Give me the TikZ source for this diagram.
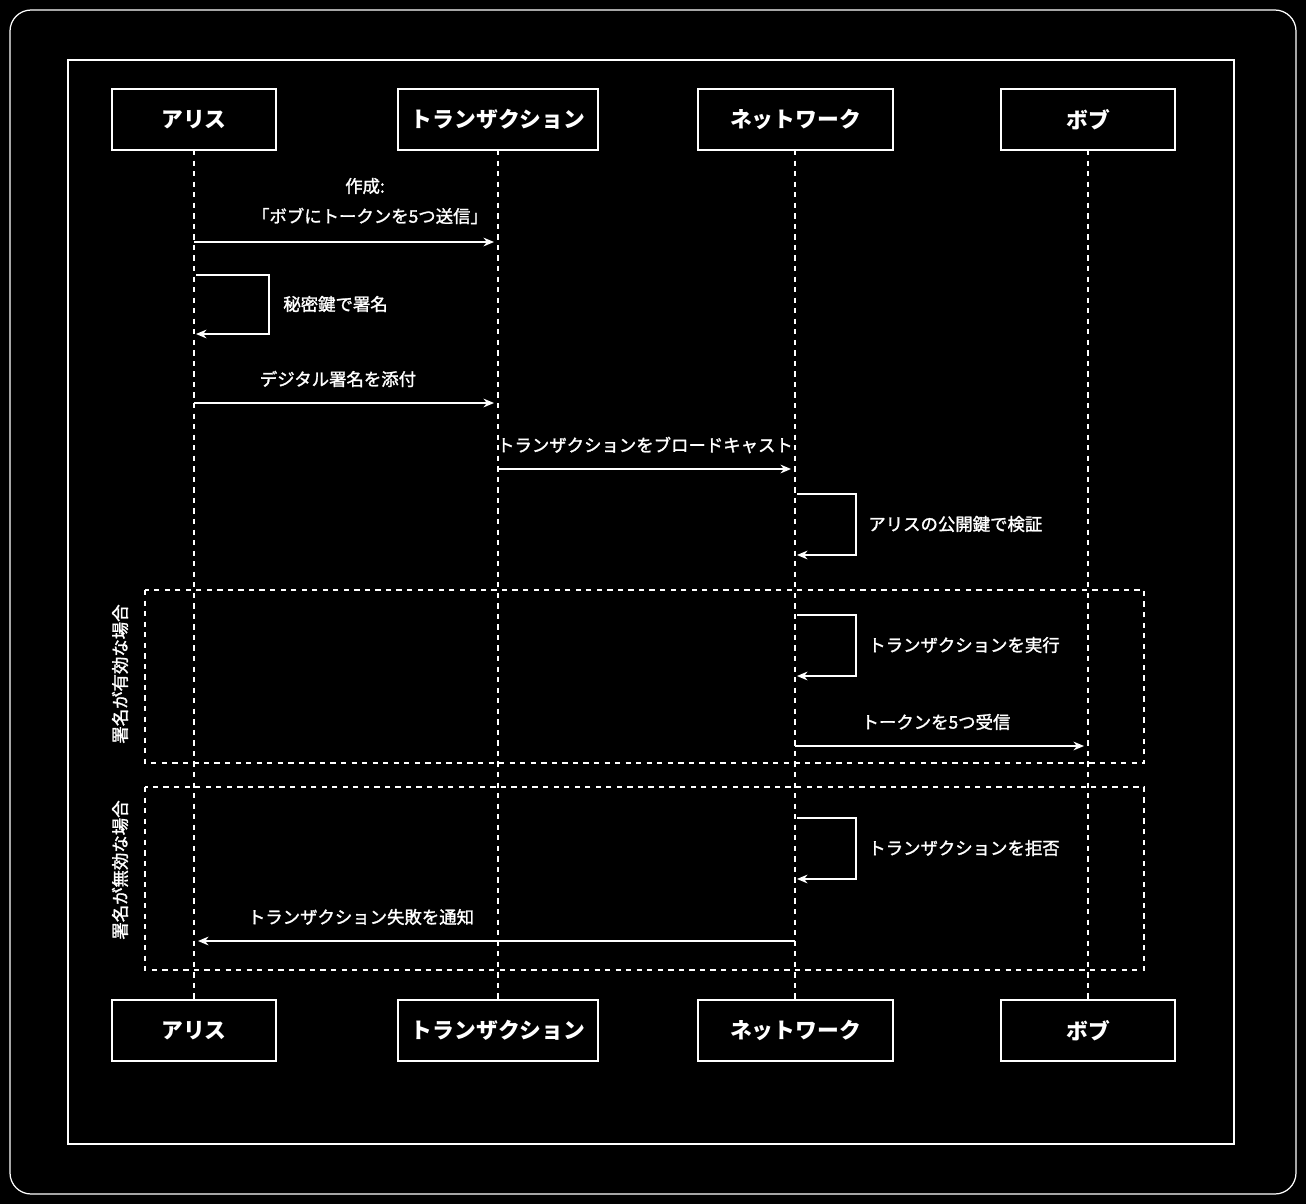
\documentclass[tikz,border=0pt]{standalone}
\usepackage{fontspec}
\newfontfamily\cjk{Noto Sans CJK JP}
\newfontfamily\cjkb{Noto Sans CJK JP}[FakeBold=1.5]
\usetikzlibrary{arrows.meta}
\begin{document}
\begin{tikzpicture}[x=0.02cm,y=-0.02cm,
  actor/.style={draw=white,line width=1.2pt,fill=black,text=white,font=\cjk\bfseries\fontsize{12.4}{14}\selectfont,minimum height=61*0.02cm,inner sep=0pt},
  life/.style={draw=white,dashed,line width=0.7pt},
  msg/.style={draw=white,line width=0.8pt,-{Stealth[length=6pt,width=5pt]}},
  lbl/.style={text=white,font=\cjkb\fontsize{9.9}{12}\selectfont,inner sep=0pt},
  frm/.style={draw=white,dashed,line width=0.8pt}]
\fill[black] (0,0) rectangle (1306,1204);
\useasboundingbox (0,0) rectangle (1306,1204);
\draw[white,line width=0.7pt,rounded corners=12pt] (10,10) rectangle (1296,1194);
\draw[white,line width=1.5pt] (68,60) rectangle (1234,1144);
% lifelines
\foreach \x in {194,498,795,1088} \draw[life] (\x,150) -- (\x,1000);
% actors
\node[actor,minimum width=164*0.02cm] (a1) at (194,119.5) {アリス};
\node[actor,minimum width=200*0.02cm] (t1) at (498,119.5) {トランザクション};
\node[actor,minimum width=195*0.02cm] (n1) at (795.5,119.5) {ネットワーク};
\node[actor,minimum width=174*0.02cm] (b1) at (1088,119.5) {ボブ};
\node[actor,minimum width=164*0.02cm] (a2) at (194,1030.5) {アリス};
\node[actor,minimum width=200*0.02cm] (t2) at (498,1030.5) {トランザクション};
\node[actor,minimum width=195*0.02cm] (n2) at (795.5,1030.5) {ネットワーク};
\node[actor,minimum width=174*0.02cm] (b2) at (1088,1030.5) {ボブ};
% frames
\draw[frm] (145,590) rectangle (1144,763);
\draw[frm] (145,787) rectangle (1144,970);
\node[lbl,rotate=90] (f1) at (120,674) {署名が有効な場合};
\node[lbl,rotate=90] (f2) at (120,870) {署名が無効な場合};
% messages
\coordinate (m1a) at (194,242); \coordinate (m1b) at (494,242);
\draw[msg] (m1a) -- (m1b);
\node[lbl] (l1a) at (365,186) {作成:};
\node[lbl] (l1b) at (370,216) {「ボブにトークンを5つ送信」};
\coordinate (s1a) at (196,275); \coordinate (s1b) at (196,334);
\draw[msg] (s1a) -- (269,275) -- (269,334) -- (s1b);
\node[lbl,anchor=west] (l2) at (283,304) {秘密鍵で署名};
\coordinate (m2a) at (194,403); \coordinate (m2b) at (494,403);
\draw[msg] (m2a) -- (m2b);
\node[lbl] (l3) at (338,379) {デジタル署名を添付};
\coordinate (m3a) at (498,469); \coordinate (m3b) at (791,469);
\draw[msg] (m3a) -- (m3b);
\node[lbl] (l4) at (645,445) {トランザクションをブロードキャスト};
\coordinate (s2a) at (797,494); \coordinate (s2b) at (797,555);
\draw[msg] (s2a) -- (856,494) -- (856,555) -- (s2b);
\node[lbl,anchor=west] (l5) at (868,524) {アリスの公開鍵で検証};
\coordinate (s3a) at (797,615); \coordinate (s3b) at (797,676);
\draw[msg] (s3a) -- (856,615) -- (856,676) -- (s3b);
\node[lbl,anchor=west] (l6) at (868,645) {トランザクションを実行};
\coordinate (m4a) at (795,746); \coordinate (m4b) at (1084,746);
\draw[msg] (m4a) -- (m4b);
\node[lbl] (l7) at (936,722) {トークンを5つ受信};
\coordinate (s4a) at (797,818); \coordinate (s4b) at (797,879);
\draw[msg] (s4a) -- (856,818) -- (856,879) -- (s4b);
\node[lbl,anchor=west] (l8) at (868,848) {トランザクションを拒否};
\coordinate (m5a) at (795,941); \coordinate (m5b) at (198,941);
\draw[msg] (m5a) -- (m5b);
\node[lbl] (l9) at (361,917) {トランザクション失敗を通知};
\end{tikzpicture}
\end{document}
